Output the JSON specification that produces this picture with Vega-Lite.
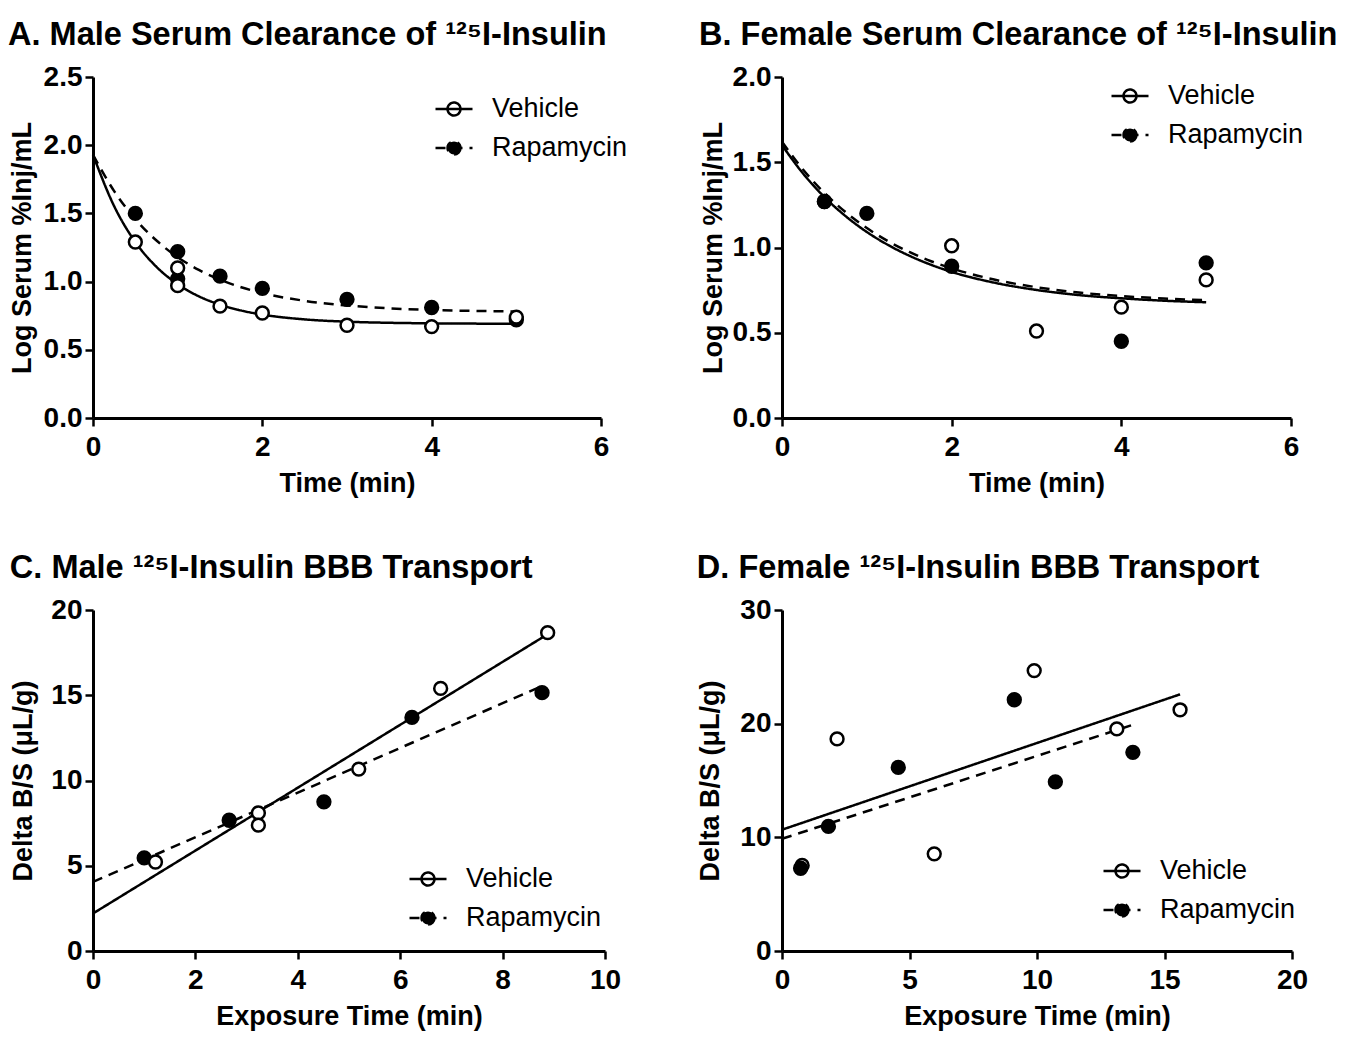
{
  "$schema": "https://vega.github.io/schema/vega-lite/v6.json",
  "background": "white",
  "padding": {"left": 8, "top": 18, "right": 10, "bottom": 10},
  "config": {
    "font": "Liberation Sans",
    "view": {"stroke": null},
    "axis": {"grid": false, "domainColor": "black", "domainWidth": 3, "tickColor": "black", "tickWidth": 2.5, "tickSize": 8, "labelFontSize": 28, "labelFontWeight": "bold", "labelColor": "black", "labelFont": "Liberation Sans", "titleFont": "Liberation Sans", "titleFontSize": 27, "titleFontWeight": "bold", "titleColor": "black", "labelPadding": 3, "labelFlush": false, "labelOverlap": false},
    "axisY": {"titlePadding": 7},
    "axisX": {"titlePadding": 9, "labelPadding": 7},
    "title": {"fontSize": 32.5, "fontWeight": "bold", "anchor": "start", "frame": "bounds", "color": "black", "offset": 12, "font": "Liberation Sans"},
    "legend": {"padding": 0, "labelFontSize": 27, "labelFont": "Liberation Sans", "labelColor": "black", "labelFontWeight": "normal", "labelOffset": 18, "symbolSize": 1369, "symbolStrokeColor": "black", "symbolStrokeWidth": 2.5, "rowPadding": 6, "symbolOpacity": 1}
  },
  "datasets": {
    "aFit": [
      {"time": 0, "value": 1.93, "group": "Vehicle"}, {"time": 0.25, "value": 1.553, "group": "Vehicle"}, {"time": 0.5, "value": 1.29, "group": "Vehicle"}, {"time": 0.75, "value": 1.108, "group": "Vehicle"}, {"time": 1, "value": 0.981, "group": "Vehicle"}, {"time": 1.25, "value": 0.892, "group": "Vehicle"}, {"time": 1.5, "value": 0.831, "group": "Vehicle"}, {"time": 1.75, "value": 0.788, "group": "Vehicle"}, {"time": 2, "value": 0.758, "group": "Vehicle"}, {"time": 2.5, "value": 0.723, "group": "Vehicle"}, {"time": 3, "value": 0.706, "group": "Vehicle"}, {"time": 3.5, "value": 0.698, "group": "Vehicle"}, {"time": 4, "value": 0.694, "group": "Vehicle"}, {"time": 4.5, "value": 0.692, "group": "Vehicle"}, {"time": 5, "value": 0.69, "group": "Vehicle"},
      {"time": 0, "value": 1.93, "group": "Rapamycin"}, {"time": 0.25, "value": 1.663, "group": "Rapamycin"}, {"time": 0.5, "value": 1.458, "group": "Rapamycin"}, {"time": 0.75, "value": 1.301, "group": "Rapamycin"}, {"time": 1, "value": 1.179, "group": "Rapamycin"}, {"time": 1.25, "value": 1.086, "group": "Rapamycin"}, {"time": 1.5, "value": 1.014, "group": "Rapamycin"}, {"time": 1.75, "value": 0.959, "group": "Rapamycin"}, {"time": 2, "value": 0.916, "group": "Rapamycin"}, {"time": 2.5, "value": 0.859, "group": "Rapamycin"}, {"time": 3, "value": 0.825, "group": "Rapamycin"}, {"time": 3.5, "value": 0.804, "group": "Rapamycin"}, {"time": 4, "value": 0.792, "group": "Rapamycin"}, {"time": 4.5, "value": 0.785, "group": "Rapamycin"}, {"time": 5, "value": 0.781, "group": "Rapamycin"}
    ],
    "aObs": [
      {"time": 0.5, "value": 1.50, "group": "Rapamycin"}, {"time": 1, "value": 1.22, "group": "Rapamycin"}, {"time": 1, "value": 1.02, "group": "Rapamycin"}, {"time": 1.5, "value": 1.04, "group": "Rapamycin"}, {"time": 2, "value": 0.95, "group": "Rapamycin"}, {"time": 3, "value": 0.87, "group": "Rapamycin"}, {"time": 4, "value": 0.81, "group": "Rapamycin"}, {"time": 5, "value": 0.72, "group": "Rapamycin"},
      {"time": 0.5, "value": 1.29, "group": "Vehicle"}, {"time": 1, "value": 1.10, "group": "Vehicle"}, {"time": 1, "value": 0.97, "group": "Vehicle"}, {"time": 1.5, "value": 0.82, "group": "Vehicle"}, {"time": 2, "value": 0.77, "group": "Vehicle"}, {"time": 3, "value": 0.68, "group": "Vehicle"}, {"time": 4, "value": 0.67, "group": "Vehicle"}, {"time": 5, "value": 0.74, "group": "Vehicle"}
    ],
    "bFit": [
      {"time": 0, "value": 1.60, "group": "Vehicle"}, {"time": 0.25, "value": 1.433, "group": "Vehicle"}, {"time": 0.5, "value": 1.296, "group": "Vehicle"}, {"time": 0.75, "value": 1.184, "group": "Vehicle"}, {"time": 1, "value": 1.091, "group": "Vehicle"}, {"time": 1.25, "value": 1.015, "group": "Vehicle"}, {"time": 1.5, "value": 0.952, "group": "Vehicle"}, {"time": 1.75, "value": 0.900, "group": "Vehicle"}, {"time": 2, "value": 0.857, "group": "Vehicle"}, {"time": 2.5, "value": 0.794, "group": "Vehicle"}, {"time": 3, "value": 0.751, "group": "Vehicle"}, {"time": 3.5, "value": 0.721, "group": "Vehicle"}, {"time": 4, "value": 0.702, "group": "Vehicle"}, {"time": 4.5, "value": 0.688, "group": "Vehicle"}, {"time": 5, "value": 0.679, "group": "Vehicle"},
      {"time": 0, "value": 1.62, "group": "Rapamycin"}, {"time": 0.25, "value": 1.456, "group": "Rapamycin"}, {"time": 0.5, "value": 1.320, "group": "Rapamycin"}, {"time": 0.75, "value": 1.207, "group": "Rapamycin"}, {"time": 1, "value": 1.114, "group": "Rapamycin"}, {"time": 1.25, "value": 1.037, "group": "Rapamycin"}, {"time": 1.5, "value": 0.974, "group": "Rapamycin"}, {"time": 1.75, "value": 0.921, "group": "Rapamycin"}, {"time": 2, "value": 0.878, "group": "Rapamycin"}, {"time": 2.5, "value": 0.812, "group": "Rapamycin"}, {"time": 3, "value": 0.767, "group": "Rapamycin"}, {"time": 3.5, "value": 0.736, "group": "Rapamycin"}, {"time": 4, "value": 0.715, "group": "Rapamycin"}, {"time": 4.5, "value": 0.701, "group": "Rapamycin"}, {"time": 5, "value": 0.691, "group": "Rapamycin"}
    ],
    "bObs": [
      {"time": 0.5, "value": 1.27, "group": "Vehicle"}, {"time": 2, "value": 1.01, "group": "Vehicle"}, {"time": 3, "value": 0.51, "group": "Vehicle"}, {"time": 4, "value": 0.65, "group": "Vehicle"}, {"time": 5, "value": 0.81, "group": "Vehicle"},
      {"time": 0.5, "value": 1.27, "group": "Rapamycin"}, {"time": 1, "value": 1.20, "group": "Rapamycin"}, {"time": 2, "value": 0.89, "group": "Rapamycin"}, {"time": 4, "value": 0.45, "group": "Rapamycin"}, {"time": 5, "value": 0.91, "group": "Rapamycin"}
    ],
    "cFit": [
      {"time": 0, "value": 2.2, "group": "Vehicle"}, {"time": 8.88, "value": 18.58, "group": "Vehicle"},
      {"time": 0, "value": 4.05, "group": "Rapamycin"}, {"time": 8.77, "value": 15.54, "group": "Rapamycin"}
    ],
    "cObs": [
      {"time": 1.0, "value": 5.46, "group": "Rapamycin"}, {"time": 2.66, "value": 7.67, "group": "Rapamycin"}, {"time": 4.51, "value": 8.75, "group": "Rapamycin"}, {"time": 6.23, "value": 13.70, "group": "Rapamycin"}, {"time": 8.77, "value": 15.15, "group": "Rapamycin"},
      {"time": 1.22, "value": 5.22, "group": "Vehicle"}, {"time": 3.23, "value": 8.10, "group": "Vehicle"}, {"time": 3.23, "value": 7.38, "group": "Vehicle"}, {"time": 5.19, "value": 10.67, "group": "Vehicle"}, {"time": 6.79, "value": 15.40, "group": "Vehicle"}, {"time": 8.88, "value": 18.67, "group": "Vehicle"}
    ],
    "dFit": [
      {"time": 0, "value": 10.67, "group": "Vehicle"}, {"time": 15.61, "value": 22.58, "group": "Vehicle"},
      {"time": 0, "value": 9.87, "group": "Rapamycin"}, {"time": 13.76, "value": 19.9, "group": "Rapamycin"}
    ],
    "dObs": [
      {"time": 0.79, "value": 7.52, "group": "Vehicle"}, {"time": 2.16, "value": 18.66, "group": "Vehicle"}, {"time": 5.97, "value": 8.55, "group": "Vehicle"}, {"time": 9.89, "value": 24.67, "group": "Vehicle"}, {"time": 13.13, "value": 19.54, "group": "Vehicle"}, {"time": 15.61, "value": 21.22, "group": "Vehicle"},
      {"time": 0.73, "value": 7.28, "group": "Rapamycin"}, {"time": 1.82, "value": 10.96, "group": "Rapamycin"}, {"time": 4.56, "value": 16.15, "group": "Rapamycin"}, {"time": 9.11, "value": 22.10, "group": "Rapamycin"}, {"time": 10.72, "value": 14.88, "group": "Rapamycin"}, {"time": 13.76, "value": 17.48, "group": "Rapamycin"}
    ]
  },
  "bounds": "flush",
  "spacing": 533,
  "vconcat": [
    {
      "hconcat": [
        {
          "title": "A. Male Serum Clearance of ¹²⁵I-Insulin",
          "width": 508, "height": 341,
          "layer": [
            {
              "data": {"name": "aFit"},
              "mark": {"type": "line", "color": "black", "strokeWidth": 2.5, "interpolate": "monotone"},
              "encoding": {
                "x": {"field": "time", "type": "quantitative", "scale": {"domain": [0, 6], "nice": false}, "axis": {"values": [0, 2, 4, 6], "format": "d", "title": "Time (min)"}},
                "y": {"field": "value", "type": "quantitative", "scale": {"domain": [0, 2.5], "nice": false}, "axis": {"values": [0, 0.5, 1, 1.5, 2, 2.5], "format": ".1f", "title": "Log Serum %Inj/mL", "titlePadding": 7}},
                "strokeDash": {"field": "group", "type": "nominal", "scale": {"domain": ["Vehicle", "Rapamycin"], "range": [[1, 0], [10, 7]]}, "legend": {"title": null, "orient": "none", "legendX": 341, "legendY": 12, "symbolType": "M-1,0L1,0M0.35,0A0.35,0.35,0,1,1,-0.35,0A0.35,0.35,0,1,1,0.35,0"}}
              }
            },
            {
              "data": {"name": "aObs"},
              "mark": {"type": "point", "shape": "circle", "filled": true, "size": 165, "stroke": "black", "strokeWidth": 2.5, "opacity": 1},
              "encoding": {
                "x": {"field": "time", "type": "quantitative"},
                "y": {"field": "value", "type": "quantitative"},
                "fill": {"field": "group", "type": "nominal", "scale": {"domain": ["Vehicle", "Rapamycin"], "range": ["white", "black"]}, "legend": {"title": null, "orient": "none", "legendX": 341, "legendY": 12, "symbolType": "M-1,0L1,0M0.35,0A0.35,0.35,0,1,1,-0.35,0A0.35,0.35,0,1,1,0.35,0"}}
              }
            }
          ]
        },
        {
          "title": "B. Female Serum Clearance of ¹²⁵I-Insulin",
          "width": 509, "height": 341,
          "layer": [
            {
              "data": {"name": "bFit"},
              "mark": {"type": "line", "color": "black", "strokeWidth": 2.5, "interpolate": "monotone"},
              "encoding": {
                "x": {"field": "time", "type": "quantitative", "scale": {"domain": [0, 6], "nice": false}, "axis": {"values": [0, 2, 4, 6], "format": "d", "title": "Time (min)"}},
                "y": {"field": "value", "type": "quantitative", "scale": {"domain": [0, 2.0], "nice": false}, "axis": {"values": [0, 0.5, 1, 1.5, 2], "format": ".1f", "title": "Log Serum %Inj/mL", "titlePadding": 5}},
                "strokeDash": {"field": "group", "type": "nominal", "scale": {"domain": ["Vehicle", "Rapamycin"], "range": [[1, 0], [10, 7]]}, "legend": {"title": null, "orient": "none", "legendX": 328, "legendY": -1, "symbolType": "M-1,0L1,0M0.35,0A0.35,0.35,0,1,1,-0.35,0A0.35,0.35,0,1,1,0.35,0"}}
              }
            },
            {
              "data": {"name": "bObs"},
              "mark": {"type": "point", "shape": "circle", "filled": true, "size": 165, "stroke": "black", "strokeWidth": 2.5, "opacity": 1},
              "encoding": {
                "x": {"field": "time", "type": "quantitative"},
                "y": {"field": "value", "type": "quantitative"},
                "fill": {"field": "group", "type": "nominal", "scale": {"domain": ["Vehicle", "Rapamycin"], "range": ["white", "black"]}, "legend": {"title": null, "orient": "none", "legendX": 328, "legendY": -1, "symbolType": "M-1,0L1,0M0.35,0A0.35,0.35,0,1,1,-0.35,0A0.35,0.35,0,1,1,0.35,0"}}
              }
            }
          ]
        }
      ],
      "spacing": 181,
      "bounds": "flush",
      "resolve": {"scale": {"x": "independent", "y": "independent", "fill": "independent", "strokeDash": "independent"}, "legend": {"fill": "independent", "strokeDash": "independent"}}
    },
    {
      "hconcat": [
        {
          "title": "C. Male ¹²⁵I-Insulin BBB Transport",
          "width": 512, "height": 341,
          "layer": [
            {
              "data": {"name": "cFit"},
              "mark": {"type": "line", "color": "black", "strokeWidth": 2.5},
              "encoding": {
                "x": {"field": "time", "type": "quantitative", "scale": {"domain": [0, 10], "nice": false}, "axis": {"values": [0, 2, 4, 6, 8, 10], "format": "d", "title": "Exposure Time (min)"}},
                "y": {"field": "value", "type": "quantitative", "scale": {"domain": [0, 20], "nice": false}, "axis": {"values": [0, 5, 10, 15, 20], "format": "d", "title": "Delta B/S (μL/g)", "titlePadding": 13}},
                "strokeDash": {"field": "group", "type": "nominal", "scale": {"domain": ["Vehicle", "Rapamycin"], "range": [[1, 0], [10, 7]]}, "legend": {"title": null, "orient": "none", "legendX": 315, "legendY": 249, "symbolType": "M-1,0L1,0M0.35,0A0.35,0.35,0,1,1,-0.35,0A0.35,0.35,0,1,1,0.35,0"}}
              }
            },
            {
              "data": {"name": "cObs"},
              "mark": {"type": "point", "shape": "circle", "filled": true, "size": 165, "stroke": "black", "strokeWidth": 2.5, "opacity": 1},
              "encoding": {
                "x": {"field": "time", "type": "quantitative"},
                "y": {"field": "value", "type": "quantitative"},
                "fill": {"field": "group", "type": "nominal", "scale": {"domain": ["Vehicle", "Rapamycin"], "range": ["white", "black"]}, "legend": {"title": null, "orient": "none", "legendX": 315, "legendY": 249, "symbolType": "M-1,0L1,0M0.35,0A0.35,0.35,0,1,1,-0.35,0A0.35,0.35,0,1,1,0.35,0"}}
              }
            }
          ]
        },
        {
          "title": "D. Female ¹²⁵I-Insulin BBB Transport",
          "width": 510, "height": 341,
          "layer": [
            {
              "data": {"name": "dFit"},
              "mark": {"type": "line", "color": "black", "strokeWidth": 2.5},
              "encoding": {
                "x": {"field": "time", "type": "quantitative", "scale": {"domain": [0, 20], "nice": false}, "axis": {"values": [0, 5, 10, 15, 20], "format": "d", "title": "Exposure Time (min)"}},
                "y": {"field": "value", "type": "quantitative", "scale": {"domain": [0, 30], "nice": false}, "axis": {"values": [0, 10, 20, 30], "format": "d", "title": "Delta B/S (μL/g)", "titlePadding": 15}},
                "strokeDash": {"field": "group", "type": "nominal", "scale": {"domain": ["Vehicle", "Rapamycin"], "range": [[1, 0], [10, 7]]}, "legend": {"title": null, "orient": "none", "legendX": 320, "legendY": 241, "symbolType": "M-1,0L1,0M0.35,0A0.35,0.35,0,1,1,-0.35,0A0.35,0.35,0,1,1,0.35,0"}}
              }
            },
            {
              "data": {"name": "dObs"},
              "mark": {"type": "point", "shape": "circle", "filled": true, "size": 165, "stroke": "black", "strokeWidth": 2.5, "opacity": 1},
              "encoding": {
                "x": {"field": "time", "type": "quantitative"},
                "y": {"field": "value", "type": "quantitative"},
                "fill": {"field": "group", "type": "nominal", "scale": {"domain": ["Vehicle", "Rapamycin"], "range": ["white", "black"]}, "legend": {"title": null, "orient": "none", "legendX": 320, "legendY": 241, "symbolType": "M-1,0L1,0M0.35,0A0.35,0.35,0,1,1,-0.35,0A0.35,0.35,0,1,1,0.35,0"}}
              }
            }
          ]
        }
      ],
      "spacing": 177,
      "bounds": "flush",
      "resolve": {"scale": {"x": "independent", "y": "independent", "fill": "independent", "strokeDash": "independent"}, "legend": {"fill": "independent", "strokeDash": "independent"}}
    }
  ],
  "resolve": {"scale": {"x": "independent", "y": "independent", "fill": "independent", "strokeDash": "independent"}, "legend": {"fill": "independent", "strokeDash": "independent"}}
}
